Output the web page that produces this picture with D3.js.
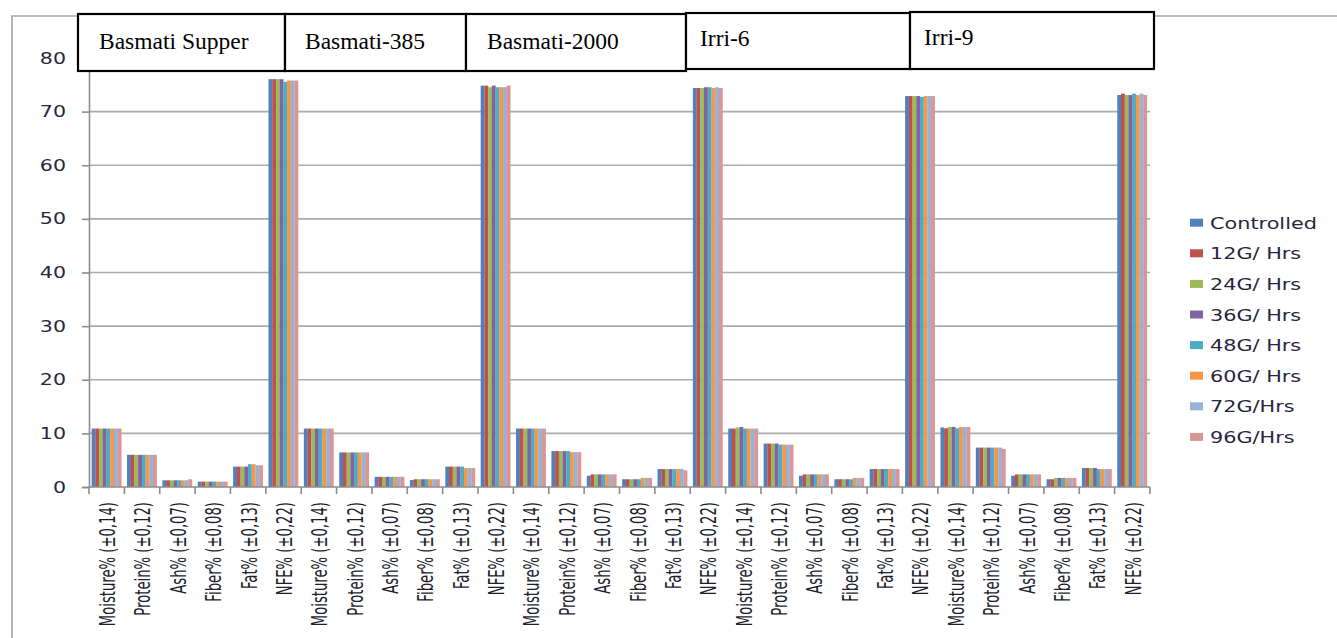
<!DOCTYPE html>
<html>
<head>
<meta charset="utf-8">
<script src="https://cdn.jsdelivr.net/npm/d3@7"></script>
<style>
  html,body{margin:0;padding:0;background:#fff;}
  svg{display:block;}
</style>
</head>
<body>
<svg id="chart" width="1337" height="638"></svg>
<script>
// ── DONNÉES ───────────────────────────────────────────────────────────────
var varieties=["Basmati Supper","Basmati-385","Basmati-2000","Irri-6","Irri-9"];
var components=["Moisture% (±0,14)","Protein% (±0,12)","Ash% (±0,07)","Fiber% (±0,08)","Fat% (±0,13)","NFE% (±0,22)"];
var seriesNames=["Controlled","12G/ Hrs","24G/ Hrs","36G/ Hrs","48G/ Hrs","60G/ Hrs","72G/Hrs","96G/Hrs"];
var yTicks=[0,10,20,30,40,50,60,70,80];

// une valeur par catégorie (5 variétés × 6 composants)
var controlled=[10.9,6.0,1.25,1.0,3.8,76.05, 10.9,6.45,1.9,1.3,3.8,74.85, 10.9,6.7,2.1,1.45,3.35,74.4, 10.9,8.1,2.1,1.45,3.35,72.9, 11.1,7.35,2.1,1.45,3.55,73.1];
var g12=[10.9,6.0,1.25,1.0,3.8,76.05, 10.9,6.45,1.9,1.45,3.8,74.85, 10.9,6.7,2.35,1.45,3.35,74.4, 10.9,8.1,2.35,1.45,3.35,72.9, 10.95,7.35,2.35,1.45,3.55,73.35];
var g24=[10.9,6.0,1.25,1.0,3.8,76.05, 10.9,6.45,1.9,1.45,3.8,74.55, 10.9,6.7,2.35,1.45,3.35,74.4, 11.1,8.1,2.35,1.45,3.35,72.9, 11.2,7.35,2.35,1.7,3.55,73.1];
var g36=[10.9,6.0,1.25,1.0,3.8,76.05, 10.9,6.45,1.9,1.45,3.8,74.85, 10.9,6.7,2.35,1.45,3.35,74.55, 11.2,8.1,2.35,1.45,3.35,72.9, 11.2,7.35,2.35,1.7,3.55,73.1];
var g48=[10.9,6.0,1.25,1.0,4.25,75.55, 10.9,6.45,1.9,1.45,3.8,74.55, 10.9,6.7,2.35,1.45,3.35,74.55, 10.9,7.9,2.35,1.45,3.35,72.75, 10.95,7.35,2.35,1.7,3.35,73.35];
var g60=[10.9,6.0,1.25,1.0,4.25,75.8, 10.9,6.45,1.9,1.45,3.55,74.55, 10.9,6.5,2.35,1.7,3.35,74.4, 10.9,7.9,2.35,1.7,3.35,72.9, 11.2,7.35,2.35,1.7,3.35,73.1];
var g72=[10.9,6.0,1.25,1.0,4.05,75.8, 10.9,6.45,1.9,1.45,3.55,74.55, 10.9,6.5,2.35,1.7,3.35,74.55, 10.9,7.9,2.35,1.7,3.35,72.9, 11.2,7.35,2.35,1.7,3.35,73.35];
var g96=[10.9,6.0,1.45,1.0,4.05,75.8, 10.9,6.45,1.9,1.45,3.55,74.85, 10.9,6.5,2.35,1.7,3.1,74.4, 10.9,7.9,2.35,1.7,3.35,72.9, 11.2,7.1,2.35,1.7,3.35,73.1];
var seriesValues=[controlled,g12,g24,g36,g48,g60,g72,g96];

// ── MISE EN PAGE ──────────────────────────────────────────────────────────
var colors=["#4F81BD","#C0504D","#9BBB59","#8064A2","#4BACC6","#F79646","#95B3D7","#D99694"];
// cadres des en-têtes (ne suivent pas exactement les groupes de l'axe)
var headerBoxes=[[78,14,285,71],[285,14,466,71],[466,14,686,71],[686,13,910,69],[910,12,1154,69]];
var headerText=[[99,49],[305,49],[487,49],[700,46],[924,45]];

var categories=[];
varieties.forEach(function(v,vi){components.forEach(function(c,ci){categories.push({i:vi*6+ci,label:c});});});

var svg=d3.select("#chart");
var X0=89,X1=1150,Y0=487,Y1=58;

var x=d3.scaleBand().domain(d3.range(categories.length)).range([X0,X1]).padding(0);
var step=x.step();
var xs=d3.scaleBand().domain(d3.range(seriesNames.length)).range([step*0.075,step*0.915]).padding(0);
var y=d3.scaleLinear().domain([0,80]).range([Y0,Y1]);

// cadre extérieur
svg.append("path").attr("d","M12,638V16H1337").attr("fill","none").attr("stroke","#a6a6a6").attr("stroke-width",1.6);

// grille
svg.append("g").selectAll("line").data(yTicks.filter(function(t){return t>0;})).enter().append("line")
  .attr("x1",X0).attr("x2",X1).attr("y1",function(d){return y(d);}).attr("y2",function(d){return y(d);})
  .attr("stroke","#ababab").attr("stroke-width",1.6);

// barres
var gBars=svg.append("g");
seriesValues.forEach(function(vals,si){
  gBars.append("g").attr("fill",colors[si]).selectAll("rect").data(vals).enter().append("rect")
    .attr("x",function(d,i){return x(i)+xs(si);})
    .attr("width",xs.bandwidth()+0.15)
    .attr("y",function(d){return y(d);})
    .attr("height",function(d){return Y0-y(d);});
});

// axe Y
var yAxis=d3.axisLeft(y).tickValues(yTicks).tickSize(7).tickPadding(0).tickFormat("");
var gy=svg.append("g").attr("transform","translate("+X0+",0)").call(yAxis);
gy.select(".domain").attr("stroke","#8c8c8c").attr("stroke-width",1.6);
gy.selectAll(".tick line").attr("stroke","#8c8c8c").attr("stroke-width",1.6);
svg.append("g").selectAll("text").data(yTicks).enter().append("text")
  .attr("transform",function(d){return "translate(66,"+(y(d)+5.5)+") scale(1.37,1)";})
  .attr("text-anchor","end").attr("font-family","DejaVu Sans").attr("font-size",15).attr("fill","#262640")
  .text(function(d){return d;});

// axe X
svg.append("line").attr("x1",X0).attr("x2",X1).attr("y1",Y0).attr("y2",Y0).attr("stroke","#8c8c8c").attr("stroke-width",1.6);
svg.append("g").selectAll("line").data(d3.range(categories.length+1)).enter().append("line")
  .attr("x1",function(d){return X0+d*step;}).attr("x2",function(d){return X0+d*step;})
  .attr("y1",Y0).attr("y2",Y0+7).attr("stroke","#8c8c8c").attr("stroke-width",1.6);
svg.append("g").selectAll("text").data(categories).enter().append("text")
  .attr("transform",function(d){return "translate("+(x(d.i)+step/2+1)+",502) rotate(-90) scale(1,1.55)";})
  .attr("text-anchor","end").attr("dy","0.36em")
  .attr("font-family","DejaVu Sans").attr("font-size",13.2).attr("fill","#1e1e2e")
  .text(function(d){return d.label;});

// légende
var lg=svg.append("g").selectAll("g").data(seriesNames).enter().append("g")
  .attr("transform",function(d,i){return "translate(1190,"+(222.7+i*30.6)+")";});
lg.append("rect").attr("x",0).attr("y",-4).attr("width",13).attr("height",8).attr("fill",function(d,i){return colors[i];});
lg.append("text").attr("transform","translate(20,6) scale(1.3,1)").attr("font-family","DejaVu Sans").attr("font-size",16)
  .attr("fill","#262640").text(function(d){return d;});

// en-têtes
var hb=svg.append("g");
headerBoxes.forEach(function(b){
  hb.append("rect").attr("x",b[0]).attr("y",b[1]).attr("width",b[2]-b[0]).attr("height",b[3]-b[1])
    .attr("fill","#fff").attr("stroke","#000").attr("stroke-width",2.2);
});
hb.selectAll("text").data(varieties).enter().append("text")
  .attr("x",function(d,i){return headerText[i][0];}).attr("y",function(d,i){return headerText[i][1];})
  .attr("font-family","Liberation Serif").attr("font-size",23.5).attr("fill","#000")
  .text(function(d){return d;});
</script>
</body>
</html>
